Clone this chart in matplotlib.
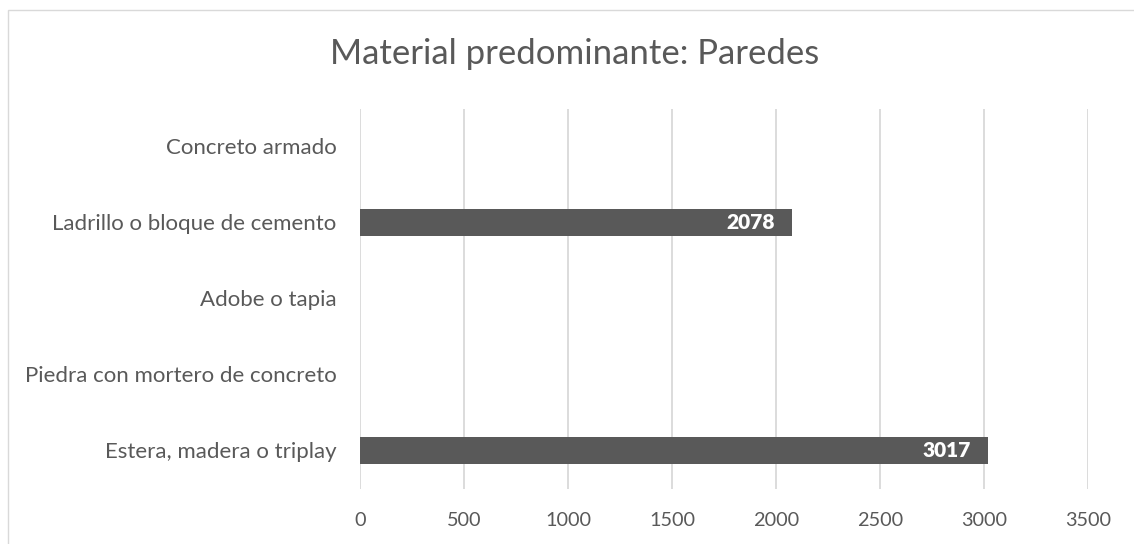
import matplotlib
matplotlib.use("Agg")
import matplotlib.pyplot as plt
from matplotlib.patches import Rectangle

categories = ["Concreto armado", "Ladrillo o bloque de cemento", "Adobe o tapia",
              "Piedra con mortero de concreto", "Estera, madera o triplay"]
values = [0, 2078, 0, 0, 3017]
xticks = [0, 500, 1000, 1500, 2000, 2500, 3000, 3500]
title = "Material predominante: Paredes"

W, H = 1134, 544
fig = plt.figure(figsize=(W / 100, H / 100), dpi=100)
fig.patch.set_facecolor("white")

# chart frame
fig.patches.append(Rectangle((8 / W, -0.1), 1.2, 1 - 10 / H + 0.1, transform=fig.transFigure,
                             fill=False, edgecolor="#D9D9D9", linewidth=1.0))

ax = fig.add_axes([360 / W, 1 - 488.5 / H, (1088 - 360) / W, (488.5 - 108.5) / H])
ypos = list(range(len(categories)))
ax.barh(ypos, values, height=0.355, color="#595959", zorder=3)
ax.set_ylim(len(categories) - 0.5, -0.5)
ax.set_xlim(0, 3500)
ax.set_xticks(xticks)
ax.set_xticklabels([str(t) for t in xticks])
ax.set_yticks(ypos)
ax.set_yticklabels(categories)
for s in ax.spines.values():
    s.set_visible(False)
ax.tick_params(length=0, colors="#595959")
ax.tick_params(axis="x", pad=17, labelsize=14.3)
ax.tick_params(axis="y", pad=17, labelsize=16)
for lab in ax.get_xticklabels() + ax.get_yticklabels():
    lab.set_fontfamily("Lato")
ax.grid(axis="x", color="#D9D9D9", linewidth=1.3, zorder=0)
ax.set_axisbelow(True)

for y, v in zip(ypos, values):
    if v:
        ax.text(v - 82, y, str(v), ha="right", va="center", color="white",
                fontsize=15, fontweight="heavy", family="Lato", zorder=4)

fig.text(575 / W, 1 - 54 / H, title, ha="center", va="center", fontsize=25,
         color="#595959", family="Lato")

fig.savefig("out.png", dpi=100)
